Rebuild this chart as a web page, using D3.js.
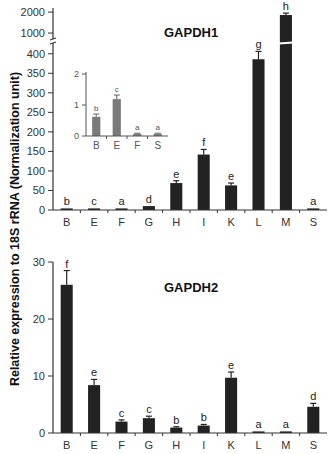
<!DOCTYPE html>
<html>
<head>
<meta charset="utf-8">
<script src="https://cdn.jsdelivr.net/npm/d3@7"></script>
<style>
  body { margin: 0; background: #fff; }
  svg { display: block; font-family: "Liberation Sans", Arial, sans-serif; }
</style>
</head>
<body>
<svg id="chart" width="329" height="454"></svg>
<script>
const tissues = ["B", "E", "F", "G", "H", "I", "K", "L", "M", "S"];

const gapdh1 = [0.62, 1.19, 0.07, 10, 69, 142, 63, 386, 1860, 0.07];
const gapdh1Err = [0.09, 0.13, 0.02, 1.5, 6, 13, 6, 20, 90, 0.02];
const gapdh1Letters = ["b", "c", "a", "d", "e", "f", "e", "g", "h", "a"];

const insetTissues = ["B", "E", "F", "S"];
const insetVals = [0.62, 1.19, 0.07, 0.07];
const insetErr = [0.09, 0.13, 0.02, 0.02];
const insetLetters = ["b", "c", "a", "a"];

const gapdh2 = [26.0, 8.4, 2.0, 2.6, 0.95, 1.3, 9.7, 0.1, 0.1, 4.6];
const gapdh2Err = [2.5, 1.0, 0.3, 0.35, 0.15, 0.2, 1.0, 0.02, 0.02, 0.6];
const gapdh2Letters = ["f", "e", "c", "c", "b", "b", "e", "a", "a", "d"];

const lowTicks = [0, 50, 100, 150, 200, 250, 300, 350, 400];
const highTicks = [1000, 2000];
const insetTicks = [0, 1, 2];
const bottomTicks = [0, 10, 20, 30];

const svg = d3.select("#chart");
const barColor = "#222";
const axisColor = "#333";
const minBarH = 1.6; // tiny bars still show as a thin sliver, as in the figure

const x = d3.scaleBand().domain(tissues).range([53, 327])
    .paddingInner(0.56).paddingOuter(0.28);

function xAxisBand(g, scale, y0, fontSize, color) {
    const step = scale.step();
    const start = scale.range()[0];
    const end = scale.range()[1];
    g.append("line").attr("x1", start).attr("x2", end)
        .attr("y1", y0).attr("y2", y0)
        .attr("stroke", color).attr("stroke-width", 1.2);
    scale.domain().forEach((d, i) => {
        const tx = start + i * step;
        if (i > 0) {
            g.append("line").attr("x1", tx).attr("x2", tx)
                .attr("y1", y0).attr("y2", y0 + 3)
                .attr("stroke", color).attr("stroke-width", 1);
        }
        g.append("text")
            .attr("x", scale(d) + scale.bandwidth() / 2)
            .attr("y", y0 + fontSize + 5)
            .attr("text-anchor", "middle")
            .attr("font-size", fontSize + "px")
            .attr("fill", color)
            .text(d);
    });
}

function yTicks(g, scale, ticks, x0, fontSize, color) {
    ticks.forEach(t => {
        const ty = scale(t);
        g.append("line").attr("x1", x0 - 5).attr("x2", x0)
            .attr("y1", ty).attr("y2", ty)
            .attr("stroke", color).attr("stroke-width", 1);
        g.append("text").attr("x", x0 - 8).attr("y", ty)
            .attr("dy", "0.35em")
            .attr("text-anchor", "end")
            .attr("font-size", fontSize + "px")
            .attr("fill", color)
            .text(t);
    });
}

function errorBar(g, cx, yTop, yErr, capW, color) {
    g.append("line").attr("x1", cx).attr("x2", cx)
        .attr("y1", yTop).attr("y2", yErr)
        .attr("stroke", color).attr("stroke-width", 1.2);
    g.append("line").attr("x1", cx - capW / 2).attr("x2", cx + capW / 2)
        .attr("y1", yErr).attr("y2", yErr)
        .attr("stroke", color).attr("stroke-width", 1.2);
}

// ---------- GAPDH1 (broken axis) ----------
const topG = svg.append("g");
const yLow = d3.scaleLinear().domain([0, 425]).range([210, 44]);
const yHigh = d3.scaleLinear().domain([620, 2100]).range([41, 10]);
const y1 = v => v <= 425 ? yLow(v) : yHigh(v);
const bar1Top = v => Math.min(y1(v), 210 - minBarH);

// axis line with a break
topG.append("line").attr("x1", 53).attr("x2", 53).attr("y1", 210).attr("y2", 43)
    .attr("stroke", axisColor).attr("stroke-width", 1.2);
topG.append("line").attr("x1", 53).attr("x2", 53).attr("y1", 39).attr("y2", 8)
    .attr("stroke", axisColor).attr("stroke-width", 1.2);
[39, 43].forEach(by => {
    topG.append("line").attr("x1", 50).attr("x2", 56)
        .attr("y1", by + 1).attr("y2", by - 1)
        .attr("stroke", axisColor).attr("stroke-width", 1.2);
});
yTicks(topG, yLow, lowTicks, 53, 11, axisColor);
yTicks(topG, yHigh, highTicks, 53, 11, axisColor);

topG.selectAll(".bar1").data(tissues).enter().append("rect")
    .attr("x", d => x(d))
    .attr("width", x.bandwidth())
    .attr("y", (d, i) => bar1Top(gapdh1[i]))
    .attr("height", (d, i) => 210 - bar1Top(gapdh1[i]))
    .attr("fill", barColor);

// white gap across the broken bar
tissues.forEach((d, i) => {
    if (gapdh1[i] > 425) {
        const bx = x(d) - 1, bw = x.bandwidth() + 2;
        topG.append("polygon")
            .attr("points", `${bx},42.5 ${bx + bw},41.5 ${bx + bw},43.5 ${bx},44.5`)
            .attr("fill", "#fff");
    }
});

tissues.forEach((d, i) => {
    const cx = x(d) + x.bandwidth() / 2;
    const v = gapdh1[i], e = gapdh1Err[i];
    const yE = y1(v + e);
    if (y1(v) - yE > 0.8) errorBar(topG, cx, y1(v), yE, 6, barColor);
    topG.append("text").attr("x", cx).attr("y", Math.min(yE, bar1Top(v)) - 3)
        .attr("text-anchor", "middle").attr("font-size", "11px")
        .attr("fill", "#222").text(gapdh1Letters[i]);
});

xAxisBand(topG, x, 210, 11, axisColor);

topG.append("text").attr("x", 164).attr("y", 37)
    .attr("font-size", "13px").attr("font-weight", "bold")
    .attr("fill", "#111").text("GAPDH1");

// ---------- inset ----------
const inset = svg.append("g");
const xi = d3.scaleBand().domain(insetTissues).range([86, 168])
    .paddingInner(0.6).paddingOuter(0.3);
const yi = d3.scaleLinear().domain([0, 2]).range([136, 74]);
const insetColor = "#555";

inset.append("line").attr("x1", 86).attr("x2", 86).attr("y1", 136).attr("y2", 72)
    .attr("stroke", insetColor).attr("stroke-width", 1);
insetTicks.forEach(t => {
    inset.append("line").attr("x1", 82).attr("x2", 86)
        .attr("y1", yi(t)).attr("y2", yi(t))
        .attr("stroke", insetColor);
    inset.append("text").attr("x", 79).attr("y", yi(t)).attr("dy", "0.35em")
        .attr("text-anchor", "end").attr("font-size", "9px")
        .attr("fill", insetColor).text(t);
});

inset.selectAll(".ibar").data(insetTissues).enter().append("rect")
    .attr("x", d => xi(d))
    .attr("width", xi.bandwidth())
    .attr("y", (d, i) => yi(insetVals[i]))
    .attr("height", (d, i) => 136 - yi(insetVals[i]))
    .attr("fill", "#7a7a7a");

insetTissues.forEach((d, i) => {
    const cx = xi(d) + xi.bandwidth() / 2;
    const yE = yi(insetVals[i] + insetErr[i]);
    errorBar(inset, cx, yi(insetVals[i]), yE, 6, "#7a7a7a");
    inset.append("text").attr("x", cx).attr("y", yE - 3)
        .attr("text-anchor", "middle").attr("font-size", "8px")
        .attr("fill", insetColor).text(insetLetters[i]);
});

{
    const step = xi.step();
    inset.append("line").attr("x1", 86).attr("x2", 168)
        .attr("y1", 136).attr("y2", 136)
        .attr("stroke", insetColor);
    insetTissues.forEach((d, i) => {
        if (i > 0) {
            inset.append("line").attr("x1", 86 + i * step).attr("x2", 86 + i * step)
                .attr("y1", 136).attr("y2", 139).attr("stroke", insetColor);
        }
        inset.append("text").attr("x", xi(d) + xi.bandwidth() / 2).attr("y", 149)
            .attr("text-anchor", "middle").attr("font-size", "10px")
            .attr("fill", insetColor).text(d);
    });
}

// ---------- GAPDH2 ----------
const bottomG = svg.append("g");
const y2 = d3.scaleLinear().domain([0, 30]).range([433, 262]);
const bar2Top = v => Math.min(y2(v), 433 - minBarH);

bottomG.append("line").attr("x1", 53).attr("x2", 53).attr("y1", 433).attr("y2", 262)
    .attr("stroke", axisColor).attr("stroke-width", 1.2);
yTicks(bottomG, y2, bottomTicks, 53, 11, axisColor);

bottomG.selectAll(".bar2").data(tissues).enter().append("rect")
    .attr("x", d => x(d))
    .attr("width", x.bandwidth())
    .attr("y", (d, i) => bar2Top(gapdh2[i]))
    .attr("height", (d, i) => 433 - bar2Top(gapdh2[i]))
    .attr("fill", barColor);

tissues.forEach((d, i) => {
    const cx = x(d) + x.bandwidth() / 2;
    const v = gapdh2[i], e = gapdh2Err[i];
    const yE = y2(v + e);
    if (y2(v) - yE > 0.8) errorBar(bottomG, cx, y2(v), yE, 6, barColor);
    bottomG.append("text").attr("x", cx).attr("y", Math.min(yE, bar2Top(v)) - 3)
        .attr("text-anchor", "middle").attr("font-size", "11px")
        .attr("fill", "#222").text(gapdh2Letters[i]);
});

xAxisBand(bottomG, x, 433, 11, axisColor);

bottomG.append("text").attr("x", 164).attr("y", 292)
    .attr("font-size", "13px").attr("font-weight", "bold")
    .attr("fill", "#111").text("GAPDH2");

// ---------- shared y label ----------
svg.append("text")
    .attr("transform", "translate(19,229) rotate(-90)")
    .attr("text-anchor", "middle")
    .attr("font-size", "12.5px").attr("font-weight", "bold")
    .attr("fill", "#111")
    .text("Relative expression to 18S rRNA (Normalization unit)");
</script>
</body>
</html>
